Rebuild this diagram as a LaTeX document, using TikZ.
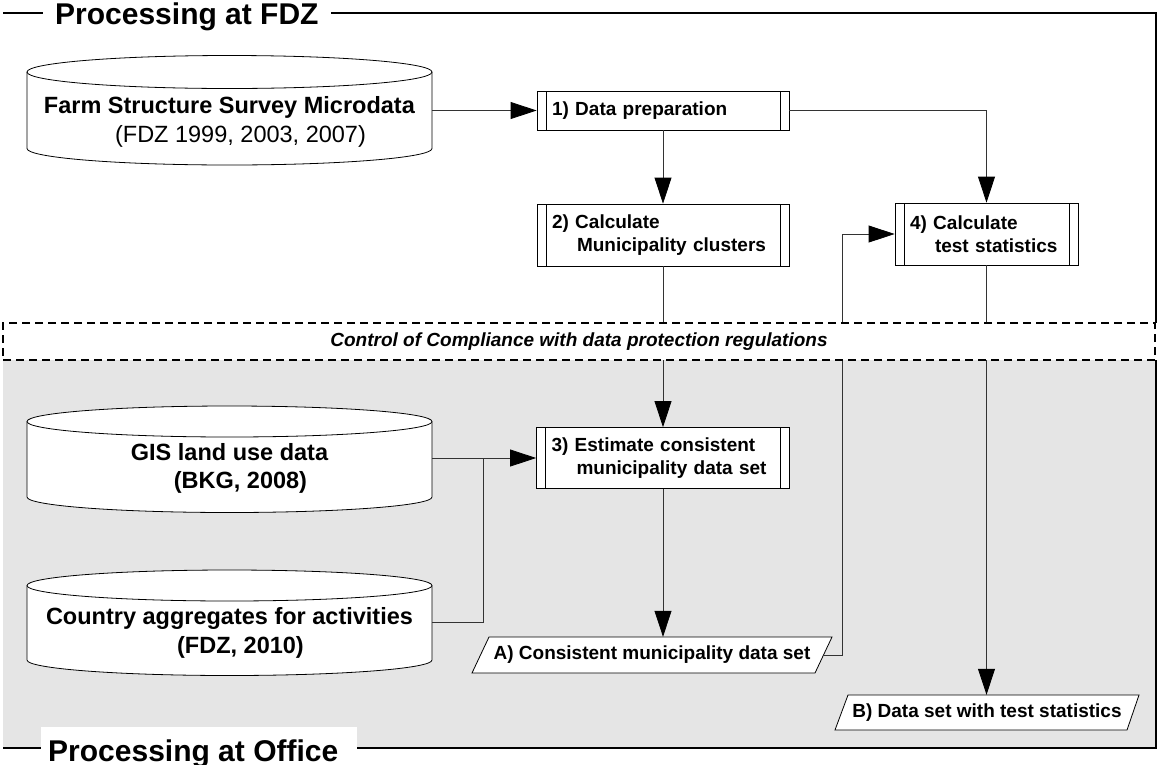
\documentclass[tikz,border=0pt]{standalone}
\usepackage{fontspec}
\setmainfont{Liberation Sans}
\usetikzlibrary{arrows.meta,calc}
\newcommand{\drawdb}[5]{%
  \pgfmathsetmacro{\dbcx}{(#1+#2)/2}%
  \pgfmathsetmacro{\dbrx}{(#2-#1)/2}%
  \pgfmathsetmacro{\dbkx}{0.5523*\dbrx}%
  \pgfmathsetmacro{\dbky}{0.5523*#5}%
  \draw[dbline] (#1,#3) -- (#1,#4) .. controls (#1,#4+\dbky) and (\dbcx-\dbkx,#4+#5) .. (\dbcx,#4+#5) .. controls (\dbcx+\dbkx,#4+#5) and (#2,#4+\dbky) .. (#2,#4) -- (#2,#3);
  \draw[dbline] (\dbcx,#3) ellipse [x radius=\dbrx, y radius=#5];
}
\begin{document}
\begin{tikzpicture}[x=1pt,y=-1pt,
  dbline/.style={draw=black, line width=0.8pt, fill=white},
  conn/.style={line width=0.8pt, draw=black!80},
  arr/.style={conn, -{Triangle[length=26pt,width=17pt,fill=black,color=black]}},
  frame/.style={line width=1.8pt, draw=black},
  ppbox/.style={draw=black, line width=0.8pt, fill=white, inner xsep=15pt, inner ysep=0pt, align=left,
    font=\fontsize{19pt}{23pt}\selectfont\bfseries,
    path picture={\draw[line width=0.8pt] ([xshift=9pt]path picture bounding box.north west) -- ([xshift=9pt]path picture bounding box.south west)
      ([xshift=-9pt]path picture bounding box.north east) -- ([xshift=-9pt]path picture bounding box.south east);}},
  cylshape/.style={inner sep=0pt, minimum width=405pt},
  cyltext/.style={align=center, inner sep=0pt, font=\fontsize{23.5pt}{29pt}\selectfont},
  outtext/.style={inner sep=0pt, font=\fontsize{19pt}{23pt}\selectfont\bfseries},
  title/.style={fill=white, anchor=base west, font=\fontsize{30pt}{36pt}\selectfont\bfseries},
  band/.style={draw=black, dash pattern=on 8pt off 5pt, line width=1.8pt, fill=white, inner sep=0pt,
    minimum width=1152pt, minimum height=37pt, font=\fontsize{19pt}{23pt}\selectfont\bfseries\itshape}
]
\useasboundingbox (0,0) rectangle (1157,764);
% office area
\fill[black!10] (3,360) rectangle (1156,748);
% frame
\draw[frame] (3,13) -- (1156,13) -- (1156,323);
\draw[frame] (1156,360) -- (1156,748) -- (3,748);

% cylinders
\drawdb{27}{432}{72}{148.5}{16.5}
\node[cylshape, minimum height=109.5pt] (farm) at (229.5,110.5) {};
\node[cyltext] (farmlbl) at (229.5,122) {\textbf{Farm Structure Survey Microdata}\\\hspace*{22pt}(FDZ 1999, 2003, 2007)};

\drawdb{27}{432}{421.5}{497}{15.5}
\node[cylshape, minimum height=106pt] (gis) at (229.5,458) {};
\node[cyltext, font=\fontsize{23.5pt}{28pt}\selectfont\bfseries] (gislbl) at (229.5,468.5) {GIS land use data\\\hspace*{22pt}(BKG, 2008)};

\drawdb{27}{432}{585.5}{660}{15.5}
\node[cylshape, minimum height=105.5pt] (country) at (229.5,622.5) {};
\node[cyltext, font=\fontsize{23.5pt}{29pt}\selectfont\bfseries] (countrylbl) at (229.5,632.5) {Country aggregates for activities\\\hspace*{22pt}(FDZ, 2010)};

% process boxes
\node[ppbox, text width=222pt, minimum height=39pt] (b1) at (663,110.5) {1) Data preparation};
\node[ppbox, text width=222pt, minimum height=62pt] (b2) at (663,235) {2) Calculate\\\hspace*{25pt}Municipality clusters};
\node[ppbox, text width=223pt, minimum height=61pt] (b3) at (663,458) {3) Estimate consistent\\\hspace*{25pt}municipality data set};
\node[ppbox, text width=153pt, minimum height=62pt] (b4) at (986.5,234) {4) Calculate\\\hspace*{25pt}test statistics};

% outputs
\draw[dbline] (489,637) -- (832,637) -- (815,673) -- (472,673) -- cycle;
\node[outtext, minimum width=343pt, minimum height=36pt] (outA) at (652,655) {A) Consistent municipality data set};
\draw[dbline] (848,695) -- (1139,695) -- (1127,730) -- (835,730) -- cycle;
\node[outtext, minimum width=298pt, minimum height=35pt] (outB) at (987,712.5) {B) Data set with test statistics};

% connectors
\draw[arr] (farm.east) -- (b1.west);
\draw[arr] (b1.south) -- (b2.north);
\draw[arr] (b1.east) -| (b4.north);
\draw[arr] (b2.south) -- (b3.north);
\draw[arr] (gis.east) -- (b3.west);
\coordinate (jn) at (483,458);
\draw[conn] (country.east) -| (jn);
\draw[arr] (b3.south) -- (b3.south |- outA.north);
\draw[arr] (outA.east) -- ++(18.5,0) |- (b4.west);
\draw[arr] (b4.south) -- (b4.south |- outB.north);

% control band
\node[band] (ctrl) at (579,341.5) {Control of Compliance with data protection regulations};

% titles
\node[title, inner xsep=12pt, inner ysep=2pt] (tfdz) at (43,24) {Processing at FDZ};
\node[title, inner xsep=7pt, inner ysep=12.5pt] (toffice) at (41,761) {Processing at Office\hspace*{12pt}};
\end{tikzpicture}
\end{document}
